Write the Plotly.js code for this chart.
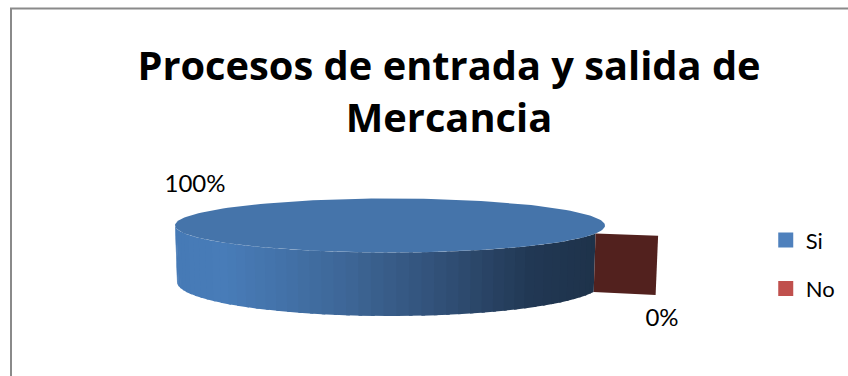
<!DOCTYPE html>
<html>
<head>
<meta charset="utf-8">
<script src="https://cdn.plot.ly/plotly-3.0.1.min.js"></script>
<style>html,body{margin:0;padding:0;background:#fff}#chart{width:848px;height:376px}</style>
</head>
<body>
<div id="chart"></div>
<script>
// Answers to the survey question
const categories = ['Si', 'No'];
const shares = [100, 0];
const percentLabels = ['100%', '0%'];
const legendColors = ['#4f81bd', '#c0504d'];
const topColor = '#4574aa';
const wedgeColor = '#52211e';

// Projection of the tilted disc onto the plotting plane
const disc = {cx: 390, cy: 225.5, rx: 215, ry: 27};
const base = {cx: 390, cy: 282, rx: 213, ry: 34};
const firstAngle = 17;      // where the first slice starts, clockwise from east
const wedgeReach = 1.304;   // outward offset of the small slice

const rad = d => d * Math.PI / 180;
const onRim = (e, a, r = 1) => [e.cx + e.rx * r * Math.cos(rad(a)), e.cy + e.ry * r * Math.sin(rad(a))];
const mix = (a, b, t) => a.map((v, i) => Math.round(v + (b[i] - v) * t));

// Wall shading stops, left to right along the visible front
const wallStops = [[0, [70, 122, 182]], [0.12, [72, 124, 184]], [0.4, [62, 103, 152]], [0.62, [50, 82, 122]], [0.85, [33, 56, 84]], [1, [30, 50, 74]]];
function wallColor(t) {
  for (let i = 1; i < wallStops.length; i++) {
    if (t <= wallStops[i][0]) {
      const [t0, c0] = wallStops[i - 1], [t1, c1] = wallStops[i];
      return 'rgb(' + mix(c0, c1, (t - t0) / (t1 - t0)).join(',') + ')';
    }
  }
  return 'rgb(' + wallStops[wallStops.length - 1][1].join(',') + ')';
}

function polygon(points, color) {
  return {
    x: points.map(p => p[0]), y: points.map(p => p[1]),
    mode: 'lines', line: {width: 0}, fill: 'toself', fillcolor: color,
    hoverinfo: 'skip', showlegend: false, type: 'scatter'
  };
}

const traces = [];
const total = shares.reduce((s, v) => s + v, 0);

// Si: the wall seen from the front, from the left tip round to the slice end
const siEnd = firstAngle + 360 * shares[0] / total;
const wallFrom = 180, wallTo = firstAngle;
const steps = 48;
for (let i = 0; i < steps; i++) {
  const a0 = wallFrom + (wallTo - wallFrom) * i / steps;
  const a1 = wallFrom + (wallTo - wallFrom) * Math.min(i + 1.3, steps) / steps;
  const pts = [];
  for (let k = 0; k <= 4; k++) pts.push(onRim(disc, a0 + (a1 - a0) * k / 4));
  for (let k = 4; k >= 0; k--) pts.push(onRim(base, a0 + (a1 - a0) * k / 4));
  const xMid = onRim(disc, (a0 + a1) / 2)[0];
  traces.push(polygon(pts, wallColor((xMid - onRim(disc, wallFrom)[0]) / (onRim(disc, wallTo)[0] - onRim(disc, wallFrom)[0]))));
}

// Si: the top face
const topPts = [];
for (let a = firstAngle; a <= siEnd; a += 2) topPts.push(onRim(disc, a));
traces.push(polygon(topPts, topColor));

// No: its share gives a zero sweep, so only the cut face shows, pushed outward
const noAngle = firstAngle + 360 * shares[1] / total;
traces.push(polygon([
  onRim(disc, noAngle), onRim(disc, noAngle, wedgeReach),
  onRim(base, noAngle, wedgeReach), onRim(base, noAngle)
], wedgeColor));

// Percentage labels beside the slices
traces.push({
  type: 'scatter', mode: 'text', x: [195, 662], y: [186, 320],
  text: percentLabels, textposition: 'middle center',
  textfont: {family: 'Lato, sans-serif', size: 24, color: '#000'},
  hoverinfo: 'skip', showlegend: false
});

// Legend entries, each in its own group so the gap spreads them apart
categories.forEach((name, i) => traces.push({
  type: 'scatter', mode: 'markers', name, legendgroup: name, x: [null], y: [null],
  marker: {symbol: 'square', size: 15, color: legendColors[i]}
}));

const layout = {
  width: 848, height: 376,
  margin: {l: 0, r: 0, t: 0, b: 0},
  paper_bgcolor: '#fff', plot_bgcolor: '#fff',
  font: {family: 'Lato, sans-serif', color: '#000'},
  xaxis: {range: [0, 848], visible: false, fixedrange: true},
  yaxis: {range: [376, 0], visible: false, fixedrange: true},
  title: {
    text: '<b>Procesos de entrada y salida de<br>Mercancia</b>',
    font: {family: '"Open Sans", sans-serif', size: 39.8, color: '#000'},
    x: 0.5295, xanchor: 'center', y: 0.787, yanchor: 'top'
  },
  legend: {
    x: 0.903, y: 0.296, xanchor: 'left', yanchor: 'middle',
    font: {family: 'Lato, sans-serif', size: 22, color: '#000'},
    itemwidth: 30, tracegroupgap: 17, bgcolor: 'rgba(0,0,0,0)'
  },
  shapes: [
    {type: 'line', xref: 'paper', yref: 'paper', x0: 10 / 848, x1: 1, y0: 1 - 8.5 / 376, y1: 1 - 8.5 / 376, line: {color: '#8a8a8a', width: 2}},
    {type: 'line', xref: 'paper', yref: 'paper', x0: 11 / 848, x1: 11 / 848, y0: 0, y1: 1 - 8.5 / 376, line: {color: '#8a8a8a', width: 2}}
  ]
};

Plotly.newPlot('chart', traces, layout, {displayModeBar: false, staticPlot: true});
</script>
</body>
</html>
